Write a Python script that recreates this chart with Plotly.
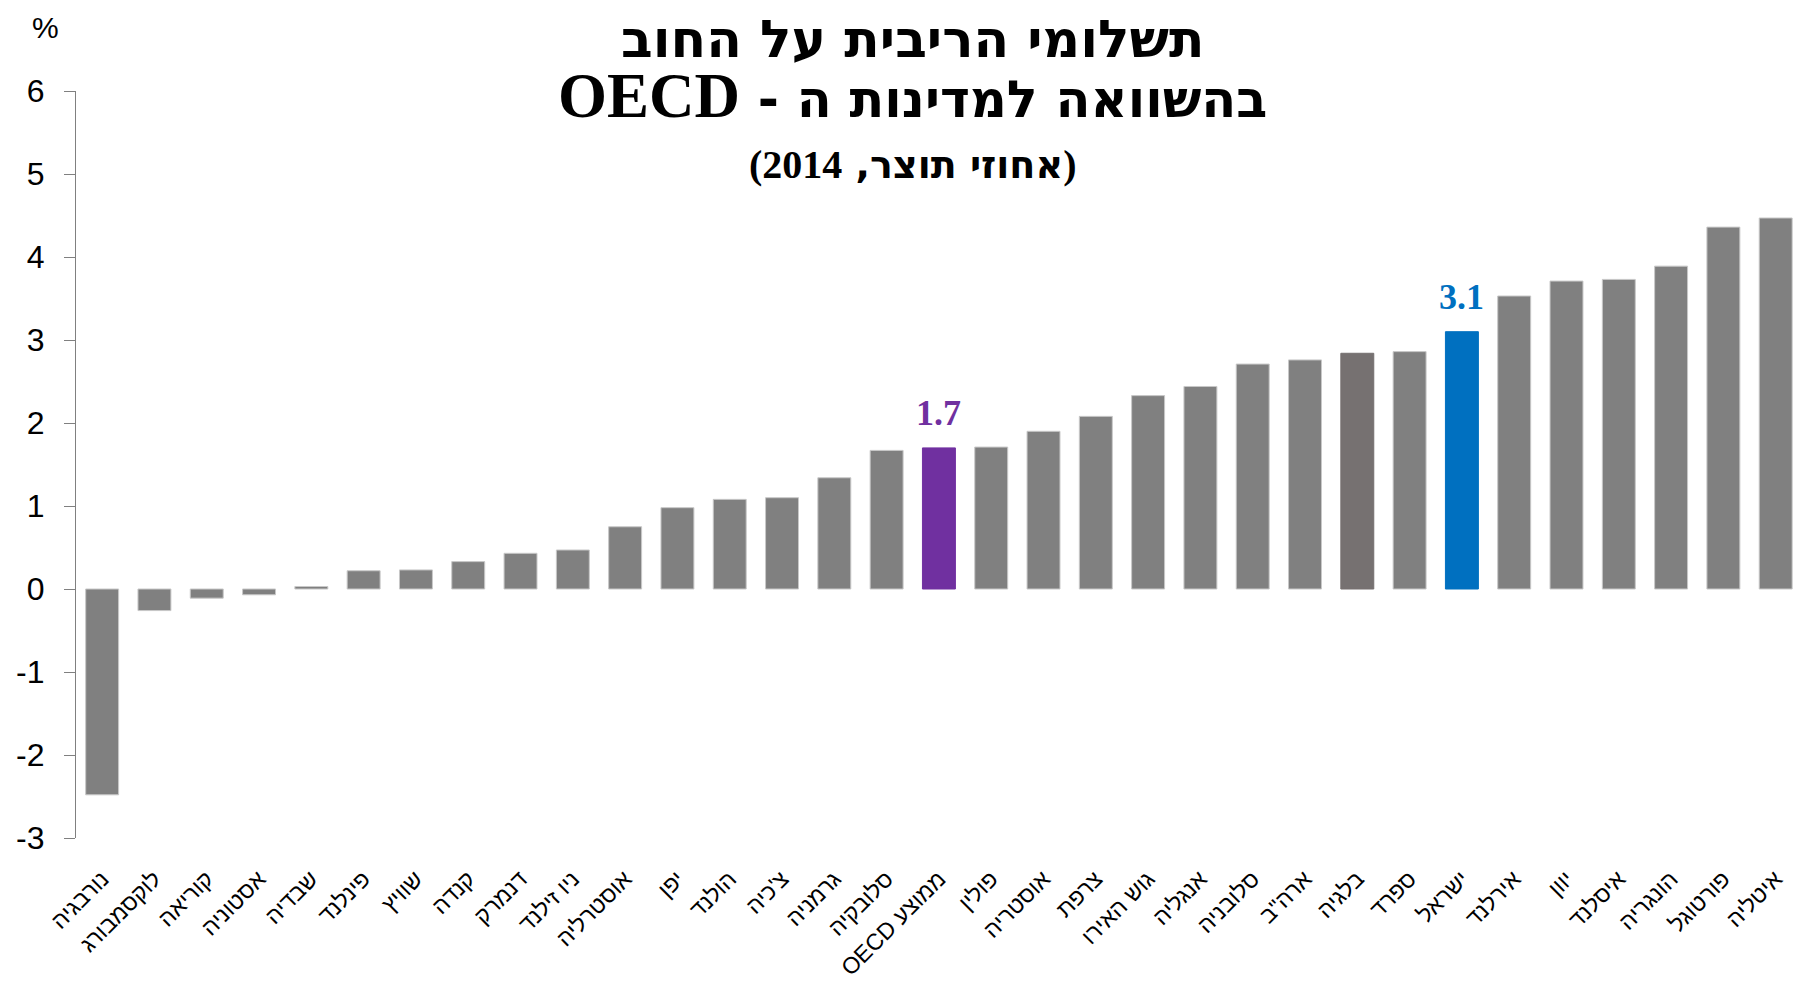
import plotly.graph_objects as go

# ---- data ----
categories = ["נורבגיה", "לוקסמבורג", "קוריאה", "אסטוניה", "שבדיה", "פינלנד", "שוויץ",
              "קנדה", "דנמרק", "ניו זילנד", "אוסטרליה", "יפן", "הולנד", "צ'כיה", "גרמניה",
              "סלובקיה", "ממוצע OECD", "פולין", "אוסטריה", "צרפת", "גוש האירו", "אנגליה",
              "סלובניה", 'ארה"ב', "בלגיה", "ספרד", "ישראל", "אירלנד", "יוון", "איסלנד",
              "הונגריה", "פורטוגל", "איטליה"]
values = [-2.48, -0.26, -0.11, -0.07, 0.03, 0.22, 0.23, 0.33, 0.43, 0.47, 0.75, 0.98,
          1.08, 1.10, 1.34, 1.67, 1.70, 1.71, 1.90, 2.08, 2.33, 2.44, 2.71, 2.76, 2.84,
          2.86, 3.10, 3.53, 3.71, 3.73, 3.89, 4.36, 4.47]
highlight_colors = {"ממוצע OECD": "#7030A0", "ישראל": "#0070C0", "בלגיה": "#767171"}
value_labels = {"ממוצע OECD": "1.7", "ישראל": "3.1"}
title_line1 = "תשלומי הריבית על החוב"
title_line2_he = "בהשוואה למדינות ה - "
title_line2_en = "OECD"
title_line3_he = "אחוזי תוצר, "
title_line3_num = "2014"
y_ticks = [-3, -2, -1, 0, 1, 2, 3, 4, 5, 6]

RLE, PDF = "\u202b", "\u202c"


def he(txt, size):
    return '<span style="font-family:\'DejaVu Sans\';font-size:%dpx">%s</span>' % (size, txt)


def lat(txt, size):
    return '<span style="font-size:%dpx">%s</span>' % (size, txt)


BASE = "#808080"
bar_colors = [highlight_colors.get(c, BASE) for c in categories]
line_colors = ["#C8C8C8" if c not in highlight_colors else highlight_colors[c] for c in categories]
n = len(categories)
tick_text = [RLE + c + PDF for c in categories]

fig = go.Figure()
fig.add_trace(go.Bar(
    x=categories, y=values,
    marker=dict(color=bar_colors, line=dict(color=line_colors, width=1)),
    hoverinfo="x+y", showlegend=False,
))

annotations = []
for cat, txt in value_labels.items():
    i = categories.index(cat)
    annotations.append(dict(
        x=cat, y=values[i], xref="x", yref="y", text="<b>%s</b>" % txt,
        showarrow=False, yanchor="bottom", yshift=13,
        font=dict(family="Liberation Serif", size=36, color=highlight_colors[cat]),
    ))

titles = [
    (RLE + "<b>" + he(title_line1, 52) + "</b>" + PDF, 1.111, "top", 52),
    (RLE + "<b>" + he(title_line2_he, 51) + lat(title_line2_en, 63) + "</b>" + PDF, 0.993, "middle", 63),
    (RLE + "<b>(" + he(title_line3_he, 38) + title_line3_num + ")</b>" + PDF, 0.901, "middle", 40),
]
for t, yy, ya, sz in titles:
    annotations.append(dict(
        x=0.487, y=yy, xref="paper", yref="paper", text=t,
        showarrow=False, xanchor="center", yanchor=ya, borderpad=0,
        font=dict(family="Liberation Serif", size=sz, color="black"),
    ))
annotations.append(dict(
    x=-0.0175, y=1.085, xref="paper", yref="paper", text="%", showarrow=False,
    xanchor="center", yanchor="middle",
    font=dict(family="Liberation Sans", size=30, color="black"),
))

fig.update_layout(
    width=1786, height=985,
    margin=dict(l=68, r=0, t=83, b=155),
    paper_bgcolor="white", plot_bgcolor="white",
    bargap=0.37,
    annotations=annotations,
    xaxis=dict(
        type="category", range=[-0.5, n - 0.65], showline=False, showgrid=False,
        ticks="", tickangle=-45, ticklabelstandoff=22,
        tickmode="array", tickvals=categories, ticktext=tick_text,
        tickfont=dict(family="Liberation Sans", size=23, color="black"),
    ),
    xaxis2=dict(
        overlaying="x", anchor="free", position=3 / 9, side="bottom",
        type="linear", range=[-0.5, n - 0.65], showgrid=False, zeroline=False,
        tickmode="array", tickvals=[i - 0.5 for i in range(n + 1)],
        showticklabels=False, ticks="outside", ticklen=9, tickwidth=1.3,
        tickcolor="black", showline=True, linecolor="#595959", linewidth=1.5,
    ),
    yaxis=dict(
        range=[-3, 6], tickmode="array", tickvals=y_ticks,
        ticktext=[str(v) for v in y_ticks], showgrid=False,
        zeroline=False, showline=True, linecolor="#808080", linewidth=1.3,
        ticks="outside", ticklen=11, tickcolor="#808080", tickwidth=1.3,
        ticklabelstandoff=13,
        tickfont=dict(family="Liberation Sans", size=32, color="black"),
    ),
)

fig.write_html("out.html")
